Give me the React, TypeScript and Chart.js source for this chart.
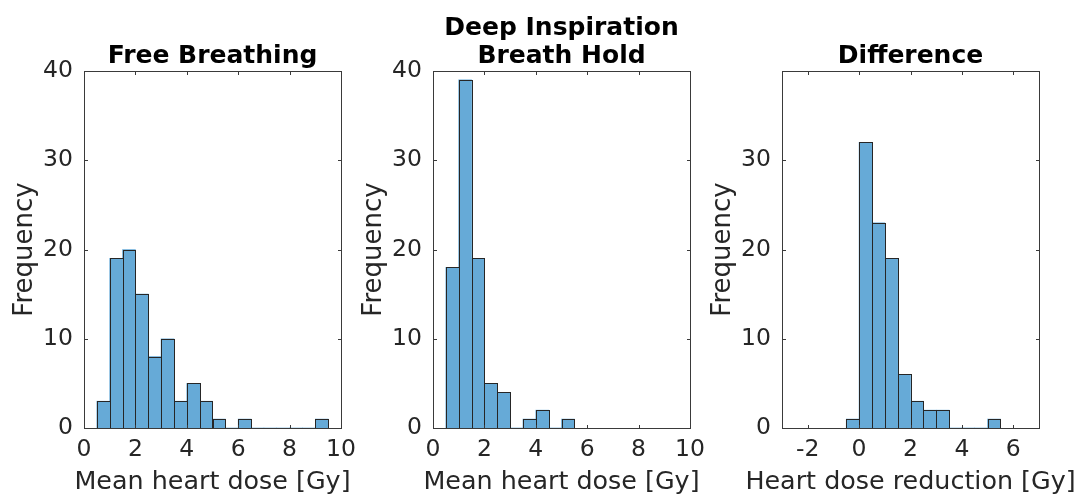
import React, { useEffect, useRef } from 'react';
import { Chart, registerables } from 'chart.js';

Chart.register(...registerables);

// ---- data ----
const fbBinCenters = [0.75, 1.25, 1.75, 2.25, 2.75, 3.25, 3.75, 4.25, 4.75, 5.25, 5.75, 6.25, 6.75, 7.25, 7.75, 8.25, 8.75, 9.25];
const fbCounts = [3, 19, 20, 15, 8, 10, 3, 5, 3, 1, 0, 1, 0, 0, 0, 0, 0, 1];

const dibhBinCenters = [0.75, 1.25, 1.75, 2.25, 2.75, 3.25, 3.75, 4.25, 4.75, 5.25];
const dibhCounts = [18, 39, 19, 5, 4, 0, 1, 2, 0, 1];

const diffBinCenters = [-0.25, 0.25, 0.75, 1.25, 1.75, 2.25, 2.75, 3.25, 3.75, 4.25, 4.75, 5.25];
const diffCounts = [1, 32, 23, 19, 6, 3, 2, 2, 0, 0, 0, 1];

const doseTicks = [0, 2, 4, 6, 8, 10];
const diffTicks = [-2, 0, 2, 4, 6];
const freqTicks = [0, 10, 20, 30, 40];
const diffFreqTicks = [0, 10, 20, 30];

const panelTitles = [['Free Breathing'], ['Deep Inspiration', 'Breath Hold'], ['Difference']];
const xAxisLabels = ['Mean heart dose [Gy]', 'Mean heart dose [Gy]', 'Heart dose reduction [Gy]'];
const yAxisLabel = 'Frequency';
const xRanges = [[0, 10], [0, 10], [-3, 7]];
const yRange = [0, 40];

// ---- layout / style ----
const W = 1077;
const H = 494;
const PLOT_W = 257;
const PLOT_TOP = 71;
const PLOT_BOTTOM = 428;
const Y_AXIS_W = 84;
const panelLefts = [84, 433, 782];
const FONT = '"DejaVu Sans", sans-serif';
const TEXT_COLOR = '#262626';
const BAR_FILL = '#66AAD7';
const EDGE = '#262626';
const TICK_LEN = 3.5;
const Y_LABEL_SIZE = 26;
const X_LABEL_SIZE = 25.4;
const TICK_SIZE = 23.5;

const panelDeco = {
  id: 'panelDeco',
  afterDraw(chart: any, _args: any, opts: any) {
    const { ctx, chartArea, scales } = chart;
    const { left, right, top, bottom } = chartArea;
    ctx.save();
    ctx.strokeStyle = EDGE;
    ctx.lineWidth = 1;
    // bar outlines
    const meta = chart.getDatasetMeta(0);
    meta.data.forEach((bar: any) => {
      const p = bar.getProps(['x', 'y', 'base', 'width'], true);
      if (Math.abs(p.base - p.y) < 0.5) return;
      const l = Math.round(p.x - p.width / 2) + 0.5;
      const r = Math.round(p.x + p.width / 2) + 0.5;
      const t = Math.round(p.y) + 0.5;
      const b = Math.round(p.base) + 0.5;
      ctx.strokeRect(l, t, r - l, b - t);
    });
    // box
    const L = Math.round(left) + 0.5;
    const R = Math.round(right) + 0.5;
    const T = Math.round(top) + 0.5;
    const B = Math.round(bottom) + 0.5;
    ctx.strokeStyle = '#3a3a3a';
    ctx.strokeRect(L, T, R - L, B - T);
    // inward ticks
    ctx.beginPath();
    scales.x.ticks.forEach((t: any) => {
      const px = Math.round(scales.x.getPixelForValue(t.value)) + 0.5;
      if (px <= L + 1 || px >= R - 1) return;
      ctx.moveTo(px, B);
      ctx.lineTo(px, B - TICK_LEN);
      ctx.moveTo(px, T);
      ctx.lineTo(px, T + TICK_LEN);
    });
    scales.y.ticks.forEach((t: any) => {
      const py = Math.round(scales.y.getPixelForValue(t.value)) + 0.5;
      if (py <= T + 1 || py >= B - 1) return;
      ctx.moveTo(L, py);
      ctx.lineTo(L + TICK_LEN, py);
      ctx.moveTo(R, py);
      ctx.lineTo(R - TICK_LEN, py);
    });
    ctx.stroke();
    // title
    const lines: string[] = opts.lines || [];
    ctx.fillStyle = '#000';
    ctx.font = `bold 25px ${FONT}`;
    ctx.textAlign = 'center';
    ctx.textBaseline = 'alphabetic';
    lines.forEach((ln, i) => {
      ctx.fillText(ln, (left + right) / 2, 62.5 - (lines.length - 1 - i) * 28);
    });
    // x-axis label (drawn without width limit, like the original)
    ctx.fillStyle = TEXT_COLOR;
    ctx.font = `${X_LABEL_SIZE}px ${FONT}`;
    ctx.fillText(opts.xLabel, (left + right) / 2, 488.5);
    ctx.restore();
  },
};

function makeConfig(i: number): any {
  const centers = [fbBinCenters, dibhBinCenters, diffBinCenters][i];
  const counts = [fbCounts, dibhCounts, diffCounts][i];
  const xt = i === 2 ? diffTicks : doseTicks;
  const yt = i === 2 ? diffFreqTicks : freqTicks;
  const left = panelLefts[i];
  return {
    type: 'bar',
    data: {
      datasets: [
        {
          data: centers.map((c, k) => ({ x: c, y: counts[k] })),
          backgroundColor: BAR_FILL,
          borderWidth: 0,
          barPercentage: 1,
          categoryPercentage: 1,
        },
      ],
    },
    options: {
      responsive: false,
      animation: false,
      events: [],
      layout: { padding: { left: left - Y_AXIS_W, top: PLOT_TOP, right: W - (left + PLOT_W), bottom: 0 } },
      plugins: {
        legend: { display: false },
        tooltip: { enabled: false },
        panelDeco: { lines: panelTitles[i], xLabel: xAxisLabels[i] },
      },
      scales: {
        x: {
          type: 'linear',
          min: xRanges[i][0],
          max: xRanges[i][1],
          offset: false,
          grid: { display: false, drawTicks: false },
          border: { display: false },
          afterBuildTicks: (s: any) => {
            s.ticks = xt.map((v) => ({ value: v }));
          },
          afterFit: (s: any) => {
            s.height = H - PLOT_BOTTOM;
          },
          ticks: {
            autoSkip: false,
            maxRotation: 0,
            padding: 8,
            color: TEXT_COLOR,
            font: { size: TICK_SIZE, family: FONT },
            callback: (v: any) => String(v),
          },
          title: { display: false },
        },
        y: {
          min: yRange[0],
          max: yRange[1],
          grid: { display: false, drawTicks: false },
          border: { display: false },
          afterBuildTicks: (s: any) => {
            s.ticks = yt.map((v) => ({ value: v }));
          },
          afterFit: (s: any) => {
            s.width = Y_AXIS_W;
          },
          ticks: {
            padding: 11,
            color: TEXT_COLOR,
            font: { size: TICK_SIZE, family: FONT },
            callback: (v: any) => String(v),
          },
          title: {
            display: true,
            text: yAxisLabel,
            color: TEXT_COLOR,
            font: { size: Y_LABEL_SIZE, family: FONT },
            padding: { top: 9.9, bottom: 0 },
          },
        },
      },
    },
    plugins: [panelDeco],
  };
}

export default function App() {
  const refs = [useRef<HTMLCanvasElement>(null), useRef<HTMLCanvasElement>(null), useRef<HTMLCanvasElement>(null)];
  useEffect(() => {
    const charts = refs.map((r, i) => new Chart(r.current as HTMLCanvasElement, makeConfig(i)));
    return () => charts.forEach((c) => c.destroy());
  }, []);
  return (
    <div style={{ position: 'fixed', left: 0, top: 0, width: W, height: H, background: '#fff', overflow: 'hidden' }}>
      {refs.map((r, i) => (
        <canvas
          key={i}
          ref={r}
          width={W}
          height={H}
          style={{ position: 'absolute', left: 0, top: 0, width: W, height: H, display: 'block' }}
        />
      ))}
    </div>
  );
}
